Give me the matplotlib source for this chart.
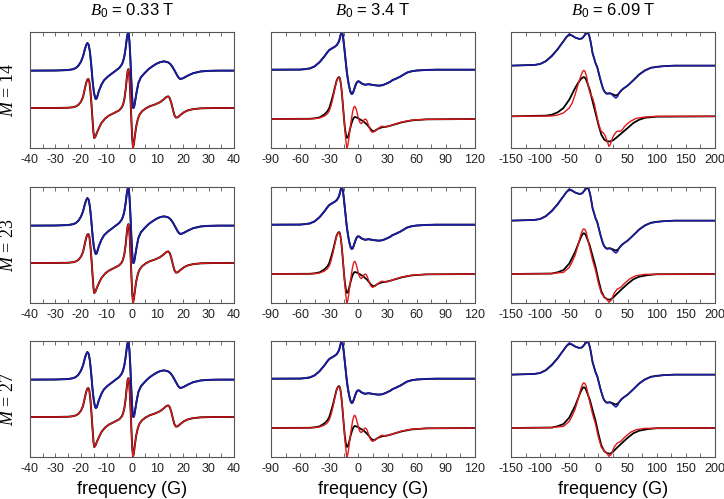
import matplotlib
matplotlib.use("Agg")
import matplotlib.pyplot as plt
from matplotlib.ticker import MultipleLocator

plt.rcParams['font.family'] = ['Liberation Sans', 'DejaVu Sans']
plt.rcParams['mathtext.fontset'] = 'custom'
plt.rcParams['mathtext.it'] = 'Liberation Serif:italic'
plt.rcParams['mathtext.rm'] = 'Liberation Sans'
plt.rcParams['axes.unicode_minus'] = False

# ---- data (intensity in arbitrary units, 0..1 per panel) ----
fields = ['0.33', '3.4', '6.09']
m_values = [14, 23, 27]
x_limits = [(-40, 40), (-90, 120), (-150, 200)]
x_major = [10, 30, 50]
x_minor = [5, 15, 25]

# B0 = 0.33 T (same for all M; black and coloured traces overlap)
lo_x_up = [-40, -30, -25, -23, -22, -21, -20, -19.2, -18.5, -18, -17.5, -17, -16.5, -16, -15.5,
           -15, -14.5, -14.2, -13.8, -13, -12, -11, -9.5, -8, -6.5, -5, -4, -3.5, -3, -2.5, -2,
           -1.6, -1.3, -1, -0.7, -0.4, -0.1, 0.2, 0.5, 0.8, 1.2, 1.8, 2.5, 3.5, 5, 6.5, 8, 9.5,
           11, 12.5, 14, 15, 16, 17, 18, 18.7, 19.5, 20.5, 22, 24, 27, 30, 34, 40]
lo_blue = [0.667, 0.668, 0.672, 0.68, 0.69, 0.71, 0.745, 0.79, 0.85, 0.885, 0.905, 0.89, 0.83,
           0.72, 0.59, 0.49, 0.435, 0.422, 0.43, 0.49, 0.545, 0.583, 0.615, 0.64, 0.665, 0.69,
           0.72, 0.747, 0.79, 0.86, 0.95, 0.995, 0.99, 0.92, 0.80, 0.65, 0.50, 0.39, 0.345, 0.35,
           0.40, 0.48, 0.56, 0.61, 0.647, 0.68, 0.704, 0.725, 0.74, 0.747, 0.74, 0.725, 0.695,
           0.655, 0.615, 0.597, 0.597, 0.607, 0.625, 0.645, 0.66, 0.665, 0.667, 0.667]
lo_x_dn = [-40, -30, -25, -23, -22, -21, -20, -19.2, -18.5, -18, -17.5, -17.1, -16.7, -16.3, -15.9,
           -15.5, -15.1, -14.8, -14.4, -13.8, -13, -12, -10.5, -9, -7, -5, -4, -3.5, -3, -2.5,
           -2.1, -1.7, -1.4, -1.1, -0.8, -0.5, -0.2, 0.1, 0.4, 0.7, 1.1, 1.6, 2.3, 3, 4, 5.5, 7,
           9, 11, 12.5, 13.5, 14.2, 14.8, 15.4, 16, 16.6, 17.2, 18, 19, 20.5, 22, 24, 27, 32, 40]
lo_red = [0.345, 0.345, 0.347, 0.352, 0.359, 0.372, 0.40, 0.44, 0.51, 0.56, 0.59, 0.595, 0.57,
          0.49, 0.38, 0.25, 0.13, 0.086, 0.095, 0.13, 0.17, 0.215, 0.255, 0.28, 0.302, 0.325,
          0.35, 0.375, 0.42, 0.50, 0.59, 0.665, 0.68, 0.64, 0.53, 0.38, 0.22, 0.08, 0.005, 0.03,
          0.1, 0.18, 0.25, 0.29, 0.318, 0.343, 0.36, 0.375, 0.395, 0.42, 0.44, 0.445, 0.43, 0.39,
          0.335, 0.285, 0.262, 0.265, 0.285, 0.31, 0.325, 0.335, 0.342, 0.345, 0.345]

# B0 = 3.4 T (same for all M)
mid_x_up = [-90, -60, -55, -50, -45, -40, -35, -32, -30, -27, -24, -22, -20, -19, -18, -17, -16,
            -15, -14, -13, -12, -11, -10, -9, -8, -7, -6, -5, -4, -3, -2, -1, 0, 1, 2, 3, 5, 7,
            9, 10, 12, 15, 18, 20, 22, 25, 28, 30, 33, 35, 38, 40, 43, 45, 48, 50, 55, 60, 70,
            80, 120]
mid_blue = [0.675, 0.676, 0.68, 0.686, 0.704, 0.74, 0.79, 0.825, 0.845, 0.86, 0.875, 0.89, 0.92,
            0.95, 0.985, 1.0, 0.97, 0.90, 0.82, 0.74, 0.66, 0.60, 0.55, 0.51, 0.48, 0.466, 0.47,
            0.49, 0.515, 0.54, 0.56, 0.572, 0.575, 0.572, 0.565, 0.558, 0.55, 0.545, 0.548, 0.55,
            0.548, 0.543, 0.54, 0.538, 0.538, 0.542, 0.552, 0.56, 0.572, 0.585, 0.595, 0.603,
            0.615, 0.625, 0.64, 0.65, 0.662, 0.668, 0.673, 0.675, 0.675]
mid_x_red = [-90, -50, -45, -40, -35, -32, -30, -28, -26, -24, -22.5, -21, -20, -19, -18, -17,
             -16, -15, -14, -13, -12, -11, -10, -9, -8, -7, -6, -5, -4, -3, -2, -1, 0, 1.5, 3,
             4.5, 6, 7, 8, 9, 10, 11.5, 13, 14.5, 16, 18, 20, 22, 24, 26, 28, 30, 33, 38, 45, 55,
             70, 120]
mid_red = [0.25, 0.251, 0.253, 0.259, 0.275, 0.295, 0.32, 0.37, 0.44, 0.52, 0.575, 0.603, 0.609,
           0.595, 0.55, 0.48, 0.38, 0.27, 0.16, 0.07, 0.0, 0.02, 0.072, 0.14, 0.2, 0.26, 0.31,
           0.345, 0.36, 0.35, 0.325, 0.29, 0.255, 0.22, 0.21, 0.225, 0.245, 0.25, 0.245, 0.23,
           0.205, 0.17, 0.145, 0.135, 0.14, 0.152, 0.165, 0.178, 0.187, 0.186, 0.182, 0.184,
           0.193, 0.207, 0.225, 0.24, 0.247, 0.25]
mid_x_blk = [-90, -50, -45, -40, -35, -32, -30, -28, -26, -24, -22.5, -21, -20, -19, -18, -17,
             -16, -15, -14, -13, -12, -11, -10, -9, -8, -7, -6, -5, -4, -3, -1, 1, 3, 5, 7, 9,
             11, 13, 15, 17, 20, 24, 28, 32, 38, 45, 55, 70, 120]
mid_black = [0.25, 0.252, 0.256, 0.264, 0.29, 0.315, 0.345, 0.40, 0.46, 0.53, 0.58, 0.606, 0.612,
             0.6, 0.55, 0.47, 0.37, 0.27, 0.18, 0.12, 0.088, 0.09, 0.115, 0.15, 0.185, 0.215,
             0.24, 0.258, 0.267, 0.266, 0.26, 0.25, 0.24, 0.23, 0.215, 0.2, 0.18, 0.158, 0.145,
             0.148, 0.165, 0.178, 0.183, 0.19, 0.205, 0.222, 0.238, 0.247, 0.25]

# B0 = 6.09 T
hi_x_up = [-150, -110, -100, -90, -80, -70, -65, -60, -55, -50, -45, -40, -33, -28, -23, -20, -18,
           -16, -14, -12, -10, -7, -5, -2, 0, 3, 5, 8, 10, 13, 15, 18, 20, 23, 25, 28, 30, 33, 35,
           40, 45, 50, 60, 70, 80, 90, 100, 110, 130, 200]
hi_blue = [0.71, 0.716, 0.724, 0.747, 0.79, 0.848, 0.885, 0.92, 0.957, 0.983, 0.97, 0.954, 0.94,
           0.945, 0.977, 0.995, 1.0, 0.975, 0.934, 0.88, 0.819, 0.77, 0.733, 0.70, 0.66, 0.60,
           0.56, 0.51, 0.489, 0.47, 0.466, 0.468, 0.47, 0.462, 0.451, 0.438, 0.431, 0.445, 0.47,
           0.503, 0.52, 0.537, 0.583, 0.632, 0.667, 0.69, 0.698, 0.704, 0.71, 0.71]
hi_black_up = [0.71, 0.716, 0.724, 0.75, 0.795, 0.852, 0.887, 0.92, 0.955, 0.978, 0.968, 0.952,
               0.94, 0.945, 0.975, 0.99, 0.995, 0.97, 0.93, 0.875, 0.815, 0.765, 0.73, 0.695,
               0.655, 0.595, 0.56, 0.51, 0.49, 0.472, 0.47, 0.472, 0.472, 0.466, 0.462, 0.455,
               0.452, 0.46, 0.47, 0.5, 0.52, 0.537, 0.585, 0.635, 0.67, 0.692, 0.7, 0.705, 0.71,
               0.71]
# M = 14
hi_x_red1 = [-150, -80, -70, -60, -50, -45, -40, -35, -30, -27, -25, -23, -20, -18, -15, -12, -10,
             -7, -5, -2, 0, 3, 5, 8, 10, 12, 15, 18, 20, 22, 25, 27, 30, 32, 35, 38, 42, 45, 50,
             55, 65, 80, 100, 200]
hi_red1 = [0.273, 0.276, 0.284, 0.302, 0.345, 0.388, 0.46, 0.546, 0.624, 0.66, 0.67, 0.66, 0.61,
           0.546, 0.48, 0.45, 0.43, 0.38, 0.33, 0.26, 0.216, 0.165, 0.144, 0.132, 0.12, 0.10,
           0.06, 0.014, 0.025, 0.057, 0.095, 0.115, 0.135, 0.144, 0.146, 0.144, 0.165, 0.187,
           0.21, 0.23, 0.256, 0.267, 0.273, 0.273]
hi_x_blk1 = [-150, -90, -80, -70, -60, -50, -40, -35, -30, -27, -25, -22, -20, -15, -10, -5, 0, 5,
             10, 15, 20, 25, 30, 40, 50, 60, 70, 80, 100, 200]
hi_black1 = [0.273, 0.279, 0.287, 0.307, 0.345, 0.417, 0.517, 0.56, 0.595, 0.607, 0.612, 0.6,
             0.575, 0.503, 0.402, 0.302, 0.201, 0.115, 0.072, 0.057, 0.057, 0.066, 0.086, 0.129,
             0.172, 0.216, 0.244, 0.261, 0.27, 0.273]
# M = 23, 27
hi_x_red2 = [-150, -80, -70, -60, -50, -45, -40, -35, -30, -27, -25, -23, -21, -15, -10, -5, 0, 5,
             10, 15, 18, 22, 27, 32, 38, 45, 55, 65, 80, 200]
hi_red2 = [0.25, 0.253, 0.26, 0.264, 0.307, 0.355, 0.412, 0.497, 0.591, 0.63, 0.64, 0.632, 0.611,
           0.477, 0.369, 0.284, 0.17, 0.085, 0.051, 0.028, 0.006, 0.023, 0.085, 0.119, 0.134,
           0.17, 0.213, 0.236, 0.247, 0.25]
hi_x_blk2 = [-150, -80, -70, -60, -50, -40, -30, -27, -25, -22, -15, -5, 0, 5, 10, 15, 20, 25, 30,
             40, 50, 60, 70, 85, 100, 200]
hi_black2 = [0.25, 0.254, 0.265, 0.284, 0.34, 0.44, 0.568, 0.595, 0.602, 0.59, 0.497, 0.313,
             0.199, 0.1, 0.05, 0.032, 0.028, 0.045, 0.071, 0.119, 0.165, 0.205, 0.227, 0.241,
             0.248, 0.25]

BLUE = '#1c1caa'
RED = '#e0191b'

lefts = [30 / 724, 271 / 724, 511 / 724]
width = 204 / 724
bottoms = [1 - 148 / 499, 1 - 303 / 499, 1 - 457 / 499]
height = 116 / 499

fig = plt.figure(figsize=(7.24, 4.99), dpi=100)

for r in range(3):
    for c in range(3):
        ax = fig.add_axes([lefts[c], bottoms[r], width, height])
        if c == 0:
            ax.plot(lo_x_up, lo_blue, color='black', lw=1.4)
            ax.plot(lo_x_up, lo_blue, color=BLUE, lw=1.2)
            ax.plot(lo_x_dn, lo_red, color='black', lw=1.4)
            ax.plot(lo_x_dn, lo_red, color=RED, lw=1.0)
        elif c == 1:
            ax.plot(mid_x_up, mid_blue, color='black', lw=1.4)
            ax.plot(mid_x_up, mid_blue, color=BLUE, lw=1.2)
            ax.plot(mid_x_blk, mid_black, color='black', lw=1.3)
            ax.plot(mid_x_red, mid_red, color=RED, lw=1.0)
        else:
            ax.plot(hi_x_up, hi_black_up, color='black', lw=1.3)
            ax.plot(hi_x_up, hi_blue, color=BLUE, lw=1.1)
            if r == 0:
                ax.plot(hi_x_blk1, hi_black1, color='black', lw=1.3)
                ax.plot(hi_x_red1, hi_red1, color=RED, lw=1.0)
            else:
                ax.plot(hi_x_blk2, hi_black2, color='black', lw=1.3)
                ax.plot(hi_x_red2, hi_red2, color=RED, lw=1.0)

        ax.set_xlim(*x_limits[c])
        ax.set_ylim(0, 1)
        ax.set_yticks([])
        ax.xaxis.set_major_locator(MultipleLocator(x_major[c]))
        ax.xaxis.set_minor_locator(MultipleLocator(x_minor[c]))
        ax.tick_params(axis='x', which='both', direction='in', top=True, bottom=True,
                       length=3, width=0.6, color='#555555', labelsize=9, pad=4,
                       labelcolor='#222222')
        for s in ax.spines.values():
            s.set_color('#555555')
            s.set_linewidth(0.8)
        if c == 0:
            fig.text(0.012, bottoms[r] + height / 2, r'$M$ = %d' % m_values[r],
                     rotation=90, ha='center', va='center', fontsize=13,
                     family='Liberation Serif')
    fig.text(lefts[r] + width / 2, 1 - 11 / 499, r'$B_0$ = %s T' % fields[r],
             ha='center', va='center', fontsize=12)
    fig.text(lefts[r] + width / 2, 1 - 489 / 499, 'frequency (G)',
             ha='center', va='center', fontsize=13)

fig.savefig('out.png', dpi=100)
